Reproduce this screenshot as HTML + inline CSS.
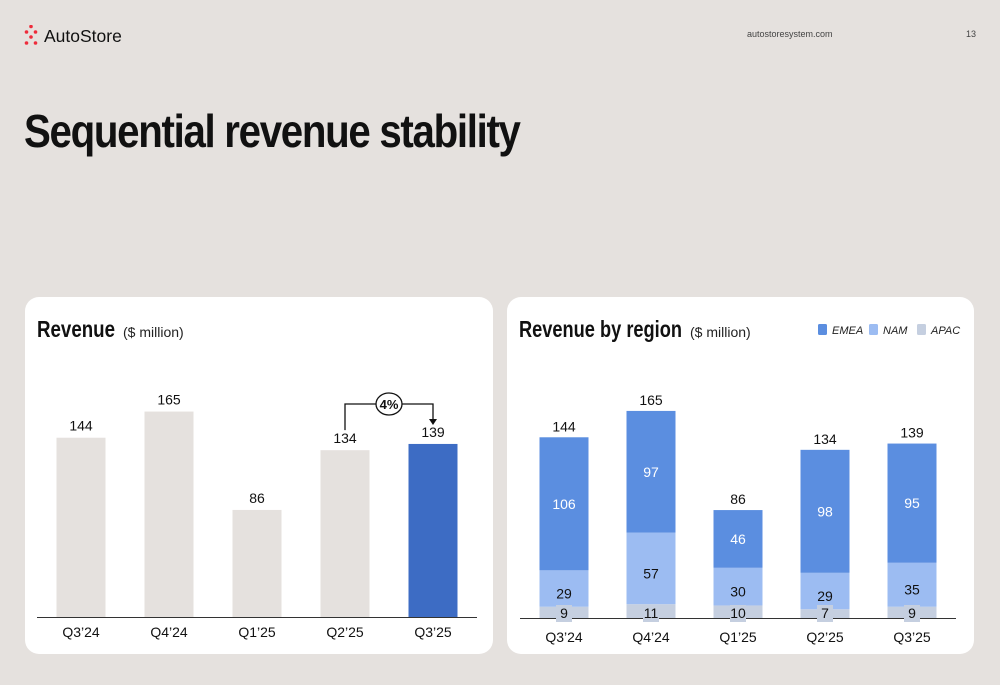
<!DOCTYPE html>
<html><head><meta charset="utf-8"><style>
body{margin:0;width:1000px;height:685px;background:#e5e1de;font-family:"Liberation Sans",sans-serif;overflow:hidden;position:relative}
.abs{position:absolute}
.card{position:absolute;background:#fff;border-radius:14px;top:297px;height:357px}
svg text{font-family:"Liberation Sans",sans-serif}
</style></head><body>
<div class="abs" style="left:24px;top:25px;height:24px">
<svg width="20" height="22" style="position:absolute;left:0;top:0"><g fill="#ee2b3b"><circle cx="7" cy="1.5" r="1.8"/><circle cx="2.5" cy="7" r="1.8"/><circle cx="11.5" cy="7" r="1.8"/><circle cx="7" cy="12" r="1.8"/><circle cx="2.5" cy="18" r="1.8"/><circle cx="11.5" cy="18" r="1.8"/></g></svg>
<span style="position:absolute;left:20px;top:1px;font-size:17.5px;color:#111;white-space:nowrap">AutoStore</span></div>
<div class="abs" style="left:747px;top:29px;font-size:9px;color:#444">autostoresystem.com</div>
<div class="abs" style="left:966px;top:29px;font-size:9px;color:#444">13</div>
<div class="abs" style="left:24px;top:104px;font-size:46px;font-weight:bold;letter-spacing:-1.5px;color:#111;transform:scaleX(0.875);transform-origin:0 0;white-space:nowrap">Sequential revenue stability</div>

<div class="card" style="left:25px;width:468px"></div>
<div class="card" style="left:507px;width:467px"></div>

<svg class="abs" style="left:0;top:0" width="1000" height="685">
<text x="37" y="337" font-size="23" font-weight="bold" textLength="78" lengthAdjust="spacingAndGlyphs" fill="#111">Revenue</text>
<text x="123" y="337" font-size="14" fill="#222">($ million)</text>
<text x="519" y="337" font-size="23" font-weight="bold" textLength="163" lengthAdjust="spacingAndGlyphs" fill="#111">Revenue by region</text>
<text x="690" y="337" font-size="14" fill="#222">($ million)</text>
<g id="legend"></g>
<g id="left"></g><g id="right"></g>
</svg>
<script>
const cats=["Q3’24","Q4’24","Q1’25","Q2’25","Q3’25"];
const revenue=[144,165,86,134,139];
const emea=[106,97,46,98,95];
const nam=[29,57,30,29,35];
const apac=[9,11,10,7,9];
const growthLabel="4%";
const NS="http://www.w3.org/2000/svg";
function el(p,t,a,txt){const e=document.createElementNS(NS,t);for(const k in a)e.setAttribute(k,a[k]);if(txt!=null)e.textContent=txt;p.appendChild(e);return e;}
const L=document.getElementById('left');
const lBase=617,lScale=1.245,lx=i=>81+i*88,bw=49;
const ly=v=>lBase-v*lScale;
revenue.forEach((v,i)=>{
 const r=el(L,'rect',{x:lx(i)-bw/2,y:ly(v),width:bw,height:v*lScale,fill:i==4?'#3d6cc4':'#e5e1de'});
 
 
 const t=el(L,'text',{x:lx(i),y:ly(v)-7,'font-size':14,'text-anchor':'middle',fill:'#111'},v);
 
 
 const c=el(L,'text',{x:lx(i),y:637,'font-size':14,'text-anchor':'middle',fill:'#111'},cats[i]);
 
 
});
const la=el(L,'line',{x1:37,x2:477,y1:lBase+0.5,y2:lBase+0.5,stroke:'#333','stroke-width':1});


const ay=404,x1=lx(3),x2=lx(4);
const ap=el(L,'path',{d:`M${x1} ${ly(revenue[3])-20}V${ay}H${x2}V${ly(revenue[4])-24}`,fill:'none',stroke:'#111','stroke-width':1.3});


el(L,'path',{d:`M${x2-4} ${ly(revenue[4])-25}L${x2+4} ${ly(revenue[4])-25}L${x2} ${ly(revenue[4])-19}Z`,fill:'#111'});
const gc=el(L,'ellipse',{cx:(x1+x2)/2,cy:ay,rx:13,ry:11,fill:'#fff',stroke:'#111','stroke-width':1.3});


const gt=el(L,'text',{x:(x1+x2)/2,y:ay+5,'font-size':13,'font-weight':'bold','text-anchor':'middle',fill:'#111'},growthLabel);


const R=document.getElementById('right');
const rBase=618,rScale=1.255,rx=i=>564+i*87;
const colors={emea:'#5b8ee0',nam:'#9cbcf2',apac:'#c5cfe0'};
cats.forEach((c,i)=>{
 const segs=[['apac',apac[i]],['nam',nam[i]],['emea',emea[i]]];
 let acc=0;
 segs.forEach(([k,v])=>{
  const y0=rBase-(acc+v)*rScale,h=v*rScale;
  const r=el(R,'rect',{x:rx(i)-bw/2,y:y0,width:bw,height:h,fill:colors[k]});
  
  
  if(k=='apac'){
   acc+=v;return;
  }
  const t=el(R,'text',{x:rx(i),y:y0+h/2+(k=='nam'?10:5),'font-size':14,'text-anchor':'middle',fill:k=='emea'?'#fff':'#111'},v);
  
  
  acc+=v;
 });
 const tot=revenue[i];
 const t=el(R,'text',{x:rx(i),y:rBase-tot*rScale-6,'font-size':14,'text-anchor':'middle',fill:'#111'},tot);
 
 
 const cl=el(R,'text',{x:rx(i),y:642,'font-size':14,'text-anchor':'middle',fill:'#111'},c);
 
 
});
const ra=el(R,'line',{x1:520,x2:956,y1:rBase+0.5,y2:rBase+0.5,stroke:'#333','stroke-width':1});


cats.forEach((c,i)=>{
 el(R,'rect',{x:rx(i)-8,y:rBase-13,width:16,height:17,fill:colors.apac});
 const t=el(R,'text',{x:rx(i),y:rBase,'font-size':14,'text-anchor':'middle',fill:'#111'},apac[i]);
 
 
});
const G=document.getElementById('legend');
[['EMEA',colors.emea,818],['NAM',colors.nam,869],['APAC',colors.apac,917]].forEach(([n,c,x])=>{
 const r=el(G,'rect',{x:x,y:324,width:9,height:11,rx:1.5,fill:c});
 
 
 const t=el(G,'text',{x:x+14,y:334,'font-size':11,'font-style':'italic',fill:'#222'},n);
 
 
});
</script>
</body></html>
